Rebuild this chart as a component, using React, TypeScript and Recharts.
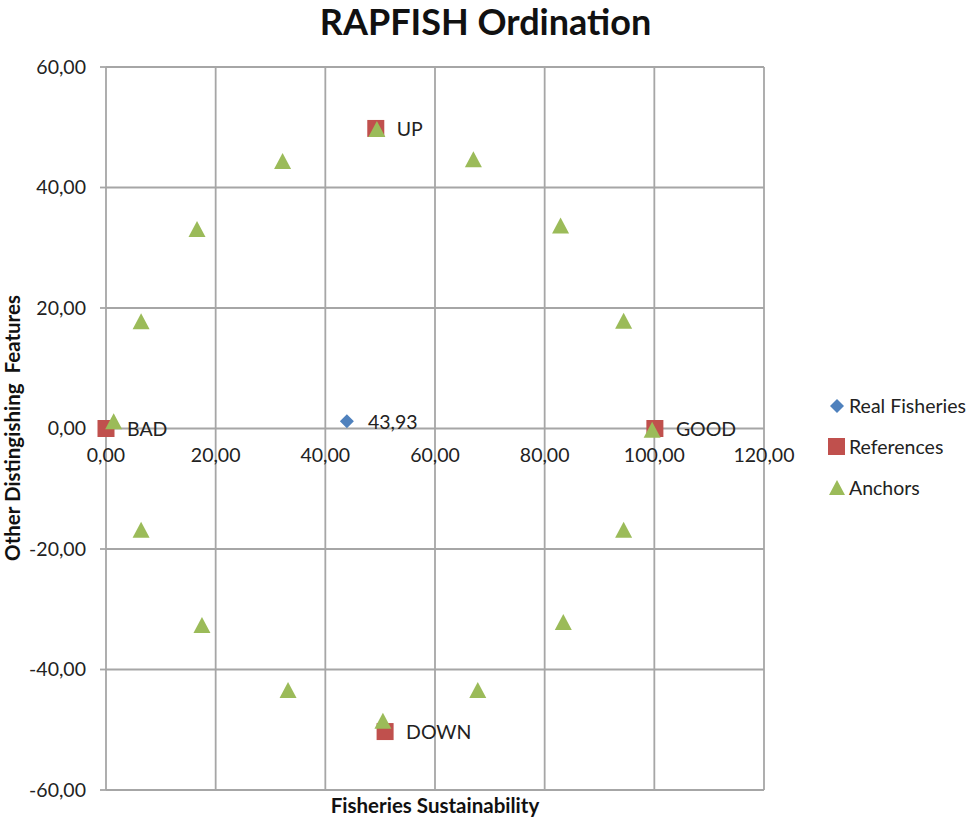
import { CartesianGrid, Scatter, ScatterChart, XAxis, YAxis } from 'recharts'

// values
const realFisheries = [{ x: 43.93, y: 1.2, label: '43,93' }]

const references = [
  { x: 0, y: 0, label: 'BAD' },
  { x: 100.1, y: 0, label: 'GOOD' },
  { x: 49.2, y: 49.8, label: 'UP' },
  { x: 50.9, y: -50.3, label: 'DOWN' },
]

const anchors = [
  { x: 1.4, y: 1.2 },
  { x: 6.4, y: 17.8 },
  { x: 16.6, y: 33.1 },
  { x: 32.2, y: 44.4 },
  { x: 49.4, y: 49.7 },
  { x: 67.0, y: 44.7 },
  { x: 82.9, y: 33.7 },
  { x: 94.4, y: 17.9 },
  { x: 99.6, y: -0.2 },
  { x: 94.4, y: -16.8 },
  { x: 83.4, y: -32.1 },
  { x: 67.8, y: -43.4 },
  { x: 50.5, y: -48.5 },
  { x: 33.2, y: -43.4 },
  { x: 17.5, y: -32.6 },
  { x: 6.4, y: -16.8 },
]

const xTicks = [0, 20, 40, 60, 80, 100, 120]
const yTicks = [-60, -40, -20, 0, 20, 40, 60]

const BLUE = '#4f81bd'
const RED = '#c0504d'
const GREEN = '#9bbb59'
const GRID = '#a6a6a6'
const TEXT = '#222'
const FONT = 'Lato, "Open Sans", sans-serif'
const FS = 19.5

const fmt = (v: number) => v.toFixed(2).replace('.', ',')

const PLOT_H = 723

function PointLabel({ cx, cy, text }: { cx: number; cy: number; text?: string }) {
  if (!text) return null
  return (
    <text x={cx + 21} y={cy + 3} dominantBaseline="middle" fontSize={FS} fill={TEXT} fontFamily={FONT}>
      {text}
    </text>
  )
}

function Diamond(props: any) {
  const { cx, cy, payload } = props
  const r = 7
  return (
    <g>
      <path d={`M${cx},${cy - r}L${cx + r},${cy}L${cx},${cy + r}L${cx - r},${cy}Z`} fill={BLUE} />
      <PointLabel cx={cx} cy={cy} text={payload?.label} />
    </g>
  )
}

function Square(props: any) {
  const { cx, cy, payload } = props
  const s = 17
  return (
    <g>
      <rect x={cx - s / 2} y={cy - s / 2} width={s} height={s} fill={RED} />
      <PointLabel cx={cx} cy={cy} text={payload?.label} />
    </g>
  )
}

function Triangle(props: any) {
  const { cx, cy } = props
  const w = 17
  const h = 16
  return <path d={`M${cx},${cy - h / 2}L${cx + w / 2},${cy + h / 2}L${cx - w / 2},${cy + h / 2}Z`} fill={GREEN} />
}

function XTick(props: any) {
  const { x, y, payload } = props
  // labels sit under the y=0 line, where the horizontal axis crosses
  return (
    <text x={x} y={y - 8 - PLOT_H / 2 + 29} textAnchor="middle" dominantBaseline="middle" fontSize={FS} fill={TEXT} fontFamily={FONT}>
      {fmt(payload.value)}
    </text>
  )
}

const legendItems = [
  { name: 'Real Fisheries', kind: 'diamond' },
  { name: 'References', kind: 'square' },
  { name: 'Anchors', kind: 'triangle' },
]

function LegendBox() {
  return (
    <div style={{ position: 'absolute', left: 827, top: 384.5, fontFamily: FONT, fontSize: FS, color: TEXT }}>
      {legendItems.map((it) => (
        <div key={it.name} style={{ display: 'flex', alignItems: 'center', height: 41, whiteSpace: 'nowrap' }}>
          <svg width={19} height={19} style={{ marginRight: 3 }}>
            {it.kind === 'diamond' && <path d="M10,3L17,10L10,17L3,10Z" fill={BLUE} />}
            {it.kind === 'square' && <rect x={1} y={1} width={17} height={17} fill={RED} />}
            {it.kind === 'triangle' && <path d="M10,2L18,17L2,17Z" fill={GREEN} />}
          </svg>
          <span>{it.name}</span>
        </div>
      ))}
    </div>
  )
}

export default function App() {
  return (
    <div style={{ position: 'absolute', left: 0, top: 0, width: 971, height: 819, background: '#fff', fontFamily: FONT, overflow: 'hidden' }}>
      <div
        style={{
          position: 'absolute',
          left: 0,
          width: 971,
          top: -1,
          textAlign: 'center',
          fontSize: 36,
          fontWeight: 700,
          color: '#111',
          lineHeight: '44px',
        }}
      >
        RAPFISH Ordination
      </div>
      <ScatterChart width={971} height={819} margin={{ top: 67, right: 207, bottom: 0, left: 0 }}>
        <CartesianGrid stroke={GRID} strokeWidth={1.8} />
        <XAxis
          type="number"
          dataKey="x"
          domain={[0, 120]}
          ticks={xTicks}
          height={29}
          axisLine={false}
          tickLine={false}
          tick={<XTick />}
          interval={0}
        />
        <YAxis
          type="number"
          dataKey="y"
          domain={[-60, 60]}
          ticks={yTicks}
          width={106}
          axisLine={false}
          tickLine={{ stroke: GRID, strokeWidth: 1.8 }}
          tickSize={6}
          tickMargin={14}
          interval={0}
          tickFormatter={fmt}
          tick={{ fontSize: FS, fill: TEXT, fontFamily: FONT }}
        />
        <Scatter name="Real Fisheries" data={realFisheries} shape={<Diamond />} isAnimationActive={false} />
        <Scatter name="References" data={references} shape={<Square />} isAnimationActive={false} />
        <Scatter name="Anchors" data={anchors} shape={<Triangle />} isAnimationActive={false} />
      </ScatterChart>
      <LegendBox />
      <div
        style={{
          position: 'absolute',
          left: 106,
          width: 658,
          top: 792,
          textAlign: 'center',
          fontSize: 20.5,
          fontWeight: 700,
          color: '#111',
          lineHeight: '26px',
        }}
      >
        Fisheries Sustainability
      </div>
      <div
        style={{
          position: 'absolute',
          left: 12,
          top: 428,
          transform: 'translate(-50%, -50%) rotate(-90deg)',
          whiteSpace: 'nowrap',
          fontSize: 20.5,
          fontWeight: 700,
          color: '#111',
        }}
      >
        Other Distingishing&nbsp; Features
      </div>
    </div>
  )
}
